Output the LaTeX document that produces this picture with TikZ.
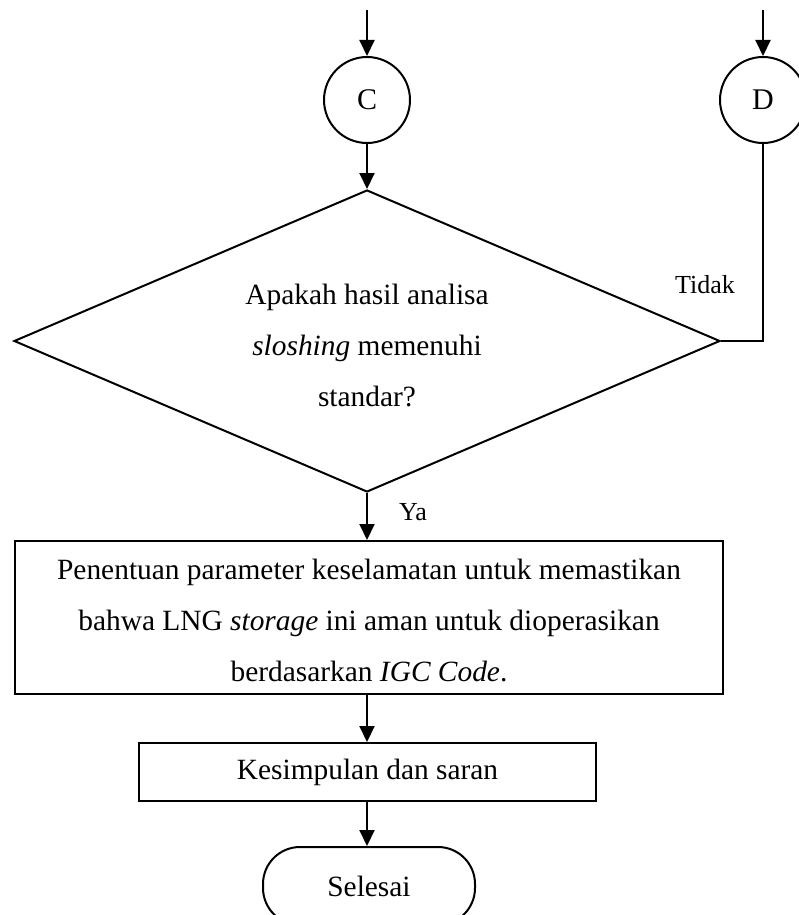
\documentclass[tikz,border=0pt]{standalone}
\usepackage{fontspec}
\setmainfont{Liberation Serif}
\usetikzlibrary{arrows.meta,shapes.geometric}
\begin{document}
\begin{tikzpicture}[x=1pt,y=1pt,line width=2pt,
  every node/.style={font=\fontsize{29.4}{51}\selectfont},
  arr/.style={-{Triangle[length=16pt,width=15pt]}},
  conn/.style={draw,circle,minimum size=86pt,inner sep=0pt,font=\fontsize{30}{30}\selectfont},
  decision/.style={draw,diamond,minimum width=706pt,minimum height=302pt,inner sep=0pt},
  procbox/.style={draw,rectangle,inner sep=0pt},
  term/.style={draw,rectangle,rounded corners=37pt,minimum width=212pt,minimum height=78pt,inner sep=0pt},
  lbl/.style={inner sep=0pt,font=\fontsize{26}{30}\selectfont},
  txt/.style={inner sep=0pt,align=center}]
\useasboundingbox (0,0) rectangle (798,-915);
\coordinate (inC) at (367,-10);
\coordinate (inD) at (763,-10);
\node[conn] (C) at (367,-100) {C};
\node[conn] (D) at (763,-100) {D};
\node[decision] (Q) at (367,-341) {};
\node[txt] (Qt) at (367,-346) {Apakah hasil analisa\\\textit{sloshing} memenuhi\\standar?};
\node[procbox,minimum width=708pt,minimum height=153pt] (P) at (369,-617.5) {};
\node[txt] (Pt) at (369,-621) {Penentuan parameter keselamatan untuk memastikan\\bahwa LNG \textit{storage} ini aman untuk dioperasikan\\berdasarkan \textit{IGC Code}.};
\node[procbox,minimum width=457pt,minimum height=58pt] (K) at (367.5,-772) {Kesimpulan dan saran};
\node[term] (S) at (369,-886) {Selesai};
\node[lbl] (ya) at (413,-512) {Ya};
\node[lbl] (tidak) at (705,-285) {Tidak};
\draw[arr] (inC) -- (C);
\draw[arr] (inD) -- (D);
\draw[arr] (C) -- (Q.north);
\draw[arr] (Q.south) -- (Q.south |- P.north);
\draw[arr] (P.south -| Q.south) -- (K.north -| Q.south);
\draw[arr] (K.south -| Q.south) -- (S.north -| Q.south);
\draw (D.south) |- (Q.east);
\end{tikzpicture}
\end{document}
